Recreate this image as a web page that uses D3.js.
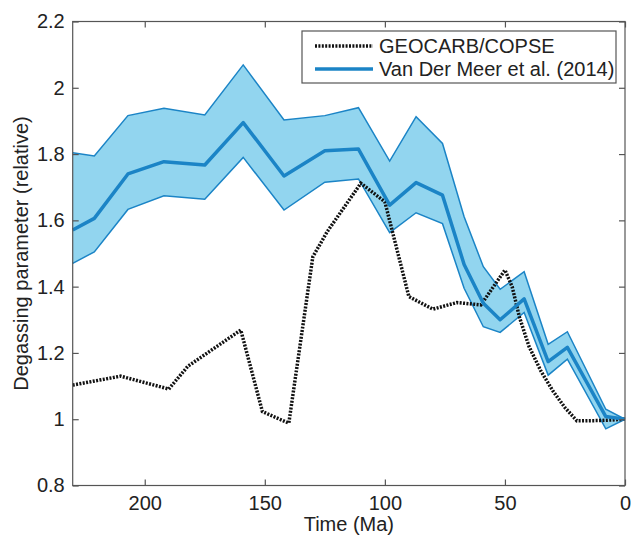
<!DOCTYPE html>
<html>
<head>
<meta charset="utf-8">
<script src="https://cdn.jsdelivr.net/npm/d3@7"></script>
<style>
  body { margin: 0; background: #fff; }
  svg text { font-family: "Liberation Sans", Arial, sans-serif; fill: #222; }
</style>
</head>
<body>
<svg id="chart" width="634" height="536"></svg>
<script>
// Van Der Meer et al. (2014) degassing, mean and envelope
const vdmTime  = [230, 221, 207, 192, 175, 159, 142, 125, 111, 98, 87, 76, 67, 59, 52, 42, 32, 24, 8, 0];
const vdmMean  = [1.571, 1.606, 1.740, 1.777, 1.767, 1.895, 1.734, 1.810, 1.815, 1.646, 1.714, 1.676, 1.467, 1.350, 1.300, 1.363, 1.174, 1.217, 1.008, 1.0];
const vdmUpper = [1.804, 1.794, 1.916, 1.938, 1.918, 2.069, 1.903, 1.916, 1.940, 1.779, 1.913, 1.832, 1.611, 1.460, 1.392, 1.445, 1.226, 1.264, 1.030, 1.0];
const vdmLower = [1.470, 1.505, 1.633, 1.674, 1.664, 1.790, 1.631, 1.715, 1.725, 1.563, 1.623, 1.590, 1.395, 1.279, 1.262, 1.322, 1.133, 1.181, 0.971, 1.0];

// GEOCARB/COPSE degassing
const geoTime  = [230, 210, 190, 182, 160, 151, 140, 130, 124, 110, 100, 90, 80, 70, 60, 50, 47, 44, 40, 35, 30, 25, 20, 10, 0];
const geoValue = [1.103, 1.130, 1.091, 1.160, 1.269, 1.023, 0.988, 1.490, 1.566, 1.712, 1.656, 1.370, 1.332, 1.352, 1.345, 1.450, 1.400, 1.309, 1.220, 1.145, 1.085, 1.035, 0.995, 0.996, 1.0];

const xTicks = [200, 150, 100, 50, 0];
const yTicks = [0.8, 1, 1.2, 1.4, 1.6, 1.8, 2, 2.2];

const plotL = 72.7, plotR = 625, plotT = 21.5, plotB = 485.5;
const fontSize = "20px";
const svg = d3.select("#chart");

const x = d3.scaleLinear().domain([230, 0]).range([plotL, plotR]);
const y = d3.scaleLinear().domain([0.8, 2.2]).range([plotB, plotT]);

const blue = "#1b84c6";
const fillBlue = "#92d5ef";

const vdm = vdmTime.map((t, i) => ({ t, m: vdmMean[i], hi: vdmUpper[i], lo: vdmLower[i] }));
const geo = geoTime.map((t, i) => ({ t, v: geoValue[i] }));

const g = svg.append("g");

// envelope
g.append("path")
  .datum(vdm)
  .attr("d", d3.area().x(d => x(d.t)).y0(d => y(d.lo)).y1(d => y(d.hi)))
  .style("fill", fillBlue)
  .style("stroke", "none");

["hi", "lo"].forEach(k => {
  g.append("path")
    .datum(vdm)
    .attr("d", d3.line().x(d => x(d.t)).y(d => y(d[k])))
    .style("fill", "none")
    .style("stroke", blue)
    .style("stroke-width", 1.5);
});

// GEOCARB dotted line
g.append("path")
  .datum(geo)
  .attr("d", d3.line().x(d => x(d.t)).y(d => y(d.v)))
  .style("fill", "none")
  .style("stroke", "#111")
  .style("stroke-width", 3.5)
  .style("stroke-dasharray", "2,1.4");

// mean line
g.append("path")
  .datum(vdm)
  .attr("d", d3.line().x(d => x(d.t)).y(d => y(d.m)))
  .style("fill", "none")
  .style("stroke", blue)
  .style("stroke-width", 3.5)
  .style("stroke-linejoin", "round");

// axes box
const axisColor = "#555";
const tickLen = 6;
svg.append("rect")
  .attr("x", plotL).attr("y", plotT)
  .attr("width", plotR - plotL).attr("height", plotB - plotT)
  .style("fill", "none").style("stroke", axisColor).style("stroke-width", 1.2);

const xAxis = svg.append("g").attr("transform", `translate(0,${plotB})`)
  .call(d3.axisBottom(x).tickValues(xTicks).tickSize(-tickLen).tickPadding(10).tickFormat(d3.format("d")));
const xAxisTop = svg.append("g").attr("transform", `translate(0,${plotT})`)
  .call(d3.axisTop(x).tickValues(xTicks).tickSize(-tickLen).tickFormat(""));
const yAxis = svg.append("g").attr("transform", `translate(${plotL},0)`)
  .call(d3.axisLeft(y).tickValues(yTicks).tickSize(-tickLen).tickPadding(8).tickFormat(d => d3.format("")(d)));
const yAxisR = svg.append("g").attr("transform", `translate(${plotR},0)`)
  .call(d3.axisRight(y).tickValues(yTicks).tickSize(-tickLen).tickFormat(""));

[xAxis, xAxisTop, yAxis, yAxisR].forEach(a => {
  a.select(".domain").remove();
  a.selectAll(".tick line").style("stroke", axisColor).style("stroke-width", 1.2);
  a.selectAll("text").style("font-size", fontSize).style("fill", "#222")
    .style("font-family", "Liberation Sans, Arial, sans-serif");
});

// axis titles
svg.append("text")
  .attr("x", (plotL + plotR) / 2).attr("y", 531)
  .attr("text-anchor", "middle")
  .style("font-size", fontSize)
  .text("Time (Ma)");

svg.append("text")
  .attr("transform", `translate(28,${(plotT + plotB) / 2}) rotate(-90)`)
  .attr("text-anchor", "middle")
  .style("font-size", fontSize)
  .text("Degassing parameter (relative)");

// legend
const legend = svg.append("g");
legend.append("rect")
  .attr("x", 302).attr("y", 31).attr("width", 314).attr("height", 52)
  .style("fill", "#fff").style("stroke", axisColor).style("stroke-width", 1.2);

legend.append("line")
  .attr("x1", 315).attr("x2", 373).attr("y1", 46).attr("y2", 46)
  .style("stroke", "#111").style("stroke-width", 3.5).style("stroke-dasharray", "2,1.4");
legend.append("text").attr("x", 379).attr("y", 46).attr("dy", "0.35em")
  .style("font-size", fontSize).text("GEOCARB/COPSE");

legend.append("line")
  .attr("x1", 315).attr("x2", 373).attr("y1", 69).attr("y2", 69)
  .style("stroke", blue).style("stroke-width", 3.5);
legend.append("text").attr("x", 379).attr("y", 69).attr("dy", "0.35em")
  .style("font-size", fontSize).text("Van Der Meer et al. (2014)");
</script>
</body>
</html>
